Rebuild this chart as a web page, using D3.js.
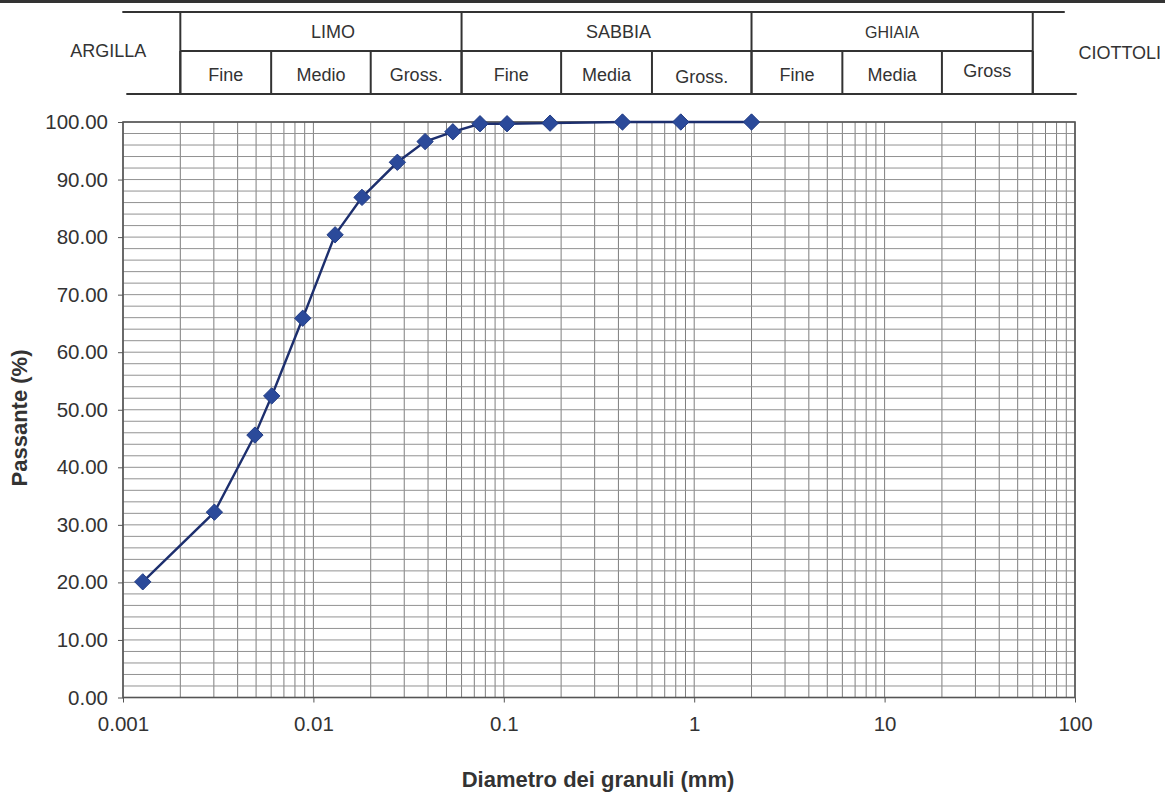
<!DOCTYPE html>
<html>
<head>
<meta charset="utf-8">
<script src="https://cdn.jsdelivr.net/npm/d3@7"></script>
<style>
  html, body { margin: 0; padding: 0; background: #fff; }
  svg { display: block; font-family: "Liberation Sans", Arial, sans-serif; }
</style>
</head>
<body>
<svg id="chart" width="1165" height="792"></svg>
<script>
// ---- data ----
const diameters = [0.00127, 0.00302, 0.00493, 0.00604, 0.00879, 0.0130, 0.0180, 0.0276, 0.0386, 0.0540, 0.075, 0.104, 0.175, 0.42, 0.85, 2.0];
const passing   = [20.1, 32.2, 45.6, 52.4, 65.9, 80.4, 86.9, 93.0, 96.6, 98.3, 99.7, 99.7, 99.8, 100.0, 100.0, 100.0];
const xTickValues = [0.001, 0.01, 0.1, 1, 10, 100];
const xTickLabels = ["0.001", "0.01", "0.1", "1", "10", "100"];
const yTickValues = [0, 10, 20, 30, 40, 50, 60, 70, 80, 90, 100];
const yTickLabels = ["0.00", "10.00", "20.00", "30.00", "40.00", "50.00", "60.00", "70.00", "80.00", "90.00", "100.00"];
// grain-size classes (header table)
const mainBounds = [0.002, 0.06, 2, 60];
const mainNames  = ["LIMO", "SABBIA", "GHIAIA"];
const subBounds  = [0.002, 0.006, 0.02, 0.06, 0.2, 0.6, 2, 6, 20, 60];
const subNames   = ["Fine", "Medio", "Gross.", "Fine", "Media", "Gross.", "Fine", "Media", "Gross"];
const leftClass  = "ARGILLA";
const rightClass = "CIOTTOLI";
const xTitle = "Diametro dei granuli (mm)";
const yTitle = "Passante (%)";

// ---- layout ----
const svg = d3.select("#chart");
const L = 123, R = 1075, T = 122, B = 697.5;
const x = d3.scaleLog().domain([0.001, 100]).range([L, R]);
const y = d3.scaleLinear().domain([0, 100]).range([B, T]);

// ---- grid ----
const minor = [];
for (let e = -3; e < 2; e++) for (let k = 1; k <= 9; k++) minor.push(k * Math.pow(10, e));
minor.push(100);
const grid = svg.append("g");
grid.selectAll("line.v").data(minor).join("line")
  .attr("x1", d => x(d)).attr("x2", d => x(d)).attr("y1", T).attr("y2", B)
  .attr("stroke", "#7e7e7e").attr("stroke-width", 1);
grid.selectAll("line.h").data(d3.range(0, 101, 2)).join("line")
  .attr("x1", L).attr("x2", R).attr("y1", d => y(d)).attr("y2", d => y(d))
  .attr("stroke", "#929292").attr("stroke-width", 1);
svg.append("rect").attr("x", L).attr("y", T).attr("width", R - L).attr("height", B - T)
  .attr("fill", "none").attr("stroke", "#555").attr("stroke-width", 1.6);

// ---- axes ----
const FONT = "Liberation Sans, Arial, sans-serif";
const xAxis = d3.axisBottom(x).tickValues(xTickValues)
  .tickFormat((d, i) => xTickLabels[i]).tickSize(5).tickPadding(14);
const gx = svg.append("g").attr("transform", `translate(0,${B})`).call(xAxis);
gx.select(".domain").remove();
gx.selectAll("line").attr("stroke", "#555");
gx.selectAll("text").attr("font-size", 20.5).attr("fill", "#333").attr("font-family", FONT);

const yAxis = d3.axisLeft(y).tickValues(yTickValues)
  .tickFormat((d, i) => yTickLabels[i]).tickSize(5).tickPadding(10);
const gy = svg.append("g").attr("transform", `translate(${L},0)`).call(yAxis);
gy.select(".domain").remove();
gy.selectAll("line").attr("stroke", "#555");
gy.selectAll("text").attr("font-size", 20.5).attr("fill", "#333").attr("font-family", FONT);

// ---- titles ----
svg.append("text").attr("x", 598).attr("y", 787).attr("text-anchor", "middle")
  .attr("font-size", 22).attr("font-weight", "bold").attr("fill", "#333").text(xTitle);
svg.append("text").attr("transform", `translate(27,${418}) rotate(-90)`).attr("text-anchor", "middle")
  .attr("font-size", 22).attr("font-weight", "bold").attr("fill", "#333").text(yTitle);

// ---- series ----
const pts = diameters.map((d, i) => [d, passing[i]]);
svg.append("path").datum(pts)
  .attr("d", d3.line().x(d => x(d[0])).y(d => y(d[1])))
  .attr("fill", "none").attr("stroke", "#1d2f6e").attr("stroke-width", 2.4);
svg.selectAll("path.m").data(pts).join("path")
  .attr("d", d3.symbol().type(d3.symbolDiamond2).size(170))
  .attr("transform", d => `translate(${x(d[0])},${y(d[1])})`)
  .attr("fill", "#2b4a9a").attr("stroke", "#213c85").attr("stroke-width", 1);

// ---- header table ----
const hdr = svg.append("g").attr("stroke", "#333").attr("stroke-width", 2);
const yTop = 12, yMid = 51, yBot = 94;
svg.append("line").attr("x1", 0).attr("x2", 1165).attr("y1", 1.5).attr("y2", 1.5)
  .attr("stroke", "#333").attr("stroke-width", 3);
hdr.append("line").attr("x1", x(0.002) - 58).attr("x2", x(60) + 32).attr("y1", yTop).attr("y2", yTop);
hdr.append("line").attr("x1", x(0.002)).attr("x2", x(60)).attr("y1", yMid).attr("y2", yMid);
hdr.append("line").attr("x1", x(0.002) - 54).attr("x2", x(60) + 44).attr("y1", yBot).attr("y2", yBot);
hdr.selectAll("line.mb").data(mainBounds).join("line")
  .attr("x1", d => x(d)).attr("x2", d => x(d)).attr("y1", yTop).attr("y2", yBot);
hdr.selectAll("line.sb").data(subBounds).join("line")
  .attr("x1", d => x(d)).attr("x2", d => x(d)).attr("y1", yMid).attr("y2", yBot);

const ht = svg.append("g").attr("fill", "#333").attr("font-size", 18).attr("text-anchor", "middle");
ht.selectAll("text.mn").data(mainNames).join("text")
  .attr("x", (d, i) => (x(mainBounds[i]) + x(mainBounds[i + 1])) / 2 + (i === 2 ? 0 : 12))
  .attr("y", 38).attr("font-size", (d, i) => i === 2 ? 16 : 18).text(d => d);
ht.selectAll("text.sn").data(subNames).join("text")
  .attr("x", (d, i) => (x(subBounds[i]) + x(subBounds[i + 1])) / 2)
  .attr("y", (d, i) => i === 8 ? 77 : (i === 5 ? 83 : 81)).text(d => d);
ht.append("text").attr("x", x(0.002) - 72).attr("y", 57).text(leftClass);
ht.append("text").attr("x", x(60) + 87).attr("y", 59).text(rightClass);
</script>
</body>
</html>
